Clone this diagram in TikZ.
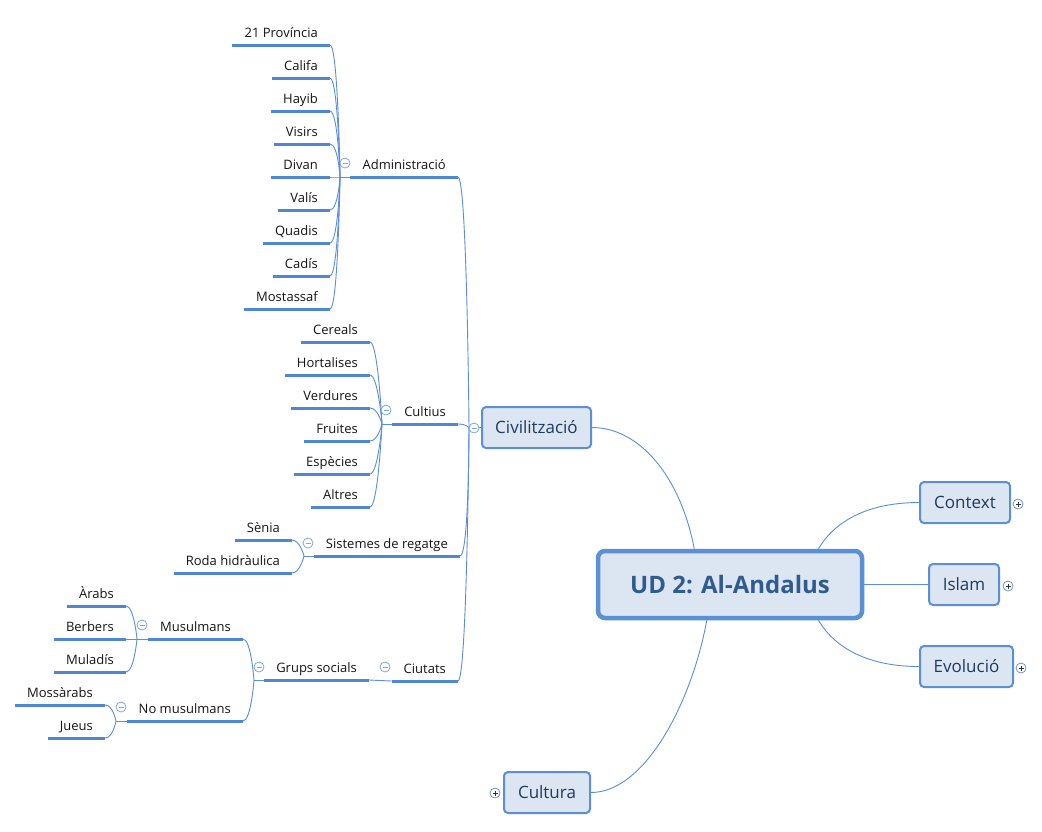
\documentclass[tikz,border=0pt]{standalone}
\usepackage{fontspec}
\setmainfont{Open Sans}
\definecolor{ulcol}{HTML}{4F86D6}
\definecolor{lncol}{HTML}{5A8FD8}
\definecolor{boxfill}{HTML}{DCE6F2}
\definecolor{boxcol}{HTML}{5B8FD6}
\definecolor{roottext}{HTML}{305B8F}
\definecolor{topictext}{HTML}{1E3A5F}
\definecolor{leaftext}{HTML}{151515}
\definecolor{mcol}{HTML}{7EA6DE}
\definecolor{pcol}{HTML}{6E95C8}
\tikzset{
 leaf/.style={anchor=south east, inner xsep=12pt, inner ysep=0pt, text height=11pt, text depth=7pt, font=\fontsize{13}{15}\selectfont, text=leaftext},
 ul/.style={draw=ulcol, line width=3pt},
 conn/.style={draw=lncol, line width=0.9pt},
 topic/.style={draw=boxcol, line width=2pt, fill=boxfill, rounded corners=4pt, font=\fontsize{17}{20}\selectfont, text=topictext, minimum height=41pt, inner sep=0pt},
 rootbox/.style={draw=boxcol, line width=4.5pt, fill=boxfill, rounded corners=7pt, font=\fontsize{24}{28}\selectfont\bfseries, text=roottext, minimum width=264pt, minimum height=67pt, inner sep=0pt},
 minusmark/.style={circle, draw=mcol, line width=0.8pt, fill=white, minimum size=10pt, inner sep=0pt,
   path picture={\draw[mcol, line width=0.8pt] ([xshift=-2.5pt]path picture bounding box.center) -- ([xshift=2.5pt]path picture bounding box.center);}},
 plusmark/.style={circle, draw=pcol, line width=0.8pt, fill=white, minimum size=10pt, inner sep=0pt,
   path picture={\draw[black!80, line width=0.8pt] ([xshift=-2.5pt]path picture bounding box.center) -- ([xshift=2.5pt]path picture bounding box.center) ([yshift=-2.5pt]path picture bounding box.center) -- ([yshift=2.5pt]path picture bounding box.center);}},
}
\begin{document}
\begin{tikzpicture}[x=1pt,y=-1pt]
\fill[white] (0,0) rectangle (1042,831);
\useasboundingbox (0,0) rectangle (1042,831);

% root and main topics
\node[rootbox] (root) at (730,584.5) {UD 2: Al-Andalus};
\node[topic, minimum width=109pt] (civ) at (536.5,427.5) {Civilització};
\node[topic, minimum width=90pt] (ctx) at (965,502.5) {Context};
\node[topic, minimum width=70pt] (isl) at (964,584.5) {Islam};
\node[topic, minimum width=93pt] (evo) at (966.5,666.5) {Evolució};
\node[topic, minimum width=86pt] (cult) at (547,792.5) {Cultura};

% Administracio
\node[leaf] (a1) at (330,45) {21 Província};
\node[leaf] (a2) at (330,78) {Califa};
\node[leaf] (a3) at (330,111) {Hayib};
\node[leaf] (a4) at (330,144) {Visirs};
\node[leaf] (a5) at (330,177) {Divan};
\node[leaf] (a6) at (330,210) {Valís};
\node[leaf] (a7) at (330,243) {Quadis};
\node[leaf] (a8) at (330,276) {Cadís};
\node[leaf] (a9) at (330,309) {Mostassaf};
\node[leaf] (adm) at (458,177) {Administració};
% Cultius
\node[leaf] (c1) at (370,342) {Cereals};
\node[leaf] (c2) at (370,375) {Hortalises};
\node[leaf] (c3) at (370,408) {Verdures};
\node[leaf] (c4) at (370,441) {Fruites};
\node[leaf] (c5) at (370,474) {Espècies};
\node[leaf] (c6) at (370,507) {Altres};
\node[leaf] (cts) at (458,424) {Cultius};
% Sistemes
\node[leaf] (s1) at (292,540) {Sènia};
\node[leaf] (s2) at (292,573) {Roda hidràulica};
\node[leaf] (sis) at (460,556) {Sistemes de regatge};
% Ciutats
\node[leaf] (ciu) at (458,681) {Ciutats};
\node[leaf] (gs) at (369,680) {Grups socials};
\node[leaf] (mus) at (243,639) {Musulmans};
\node[leaf] (nom) at (243,721) {No musulmans};
\node[leaf] (m1) at (126,606) {Àrabs};
\node[leaf] (m2) at (126,639) {Berbers};
\node[leaf] (m3) at (126,672) {Muladís};
\node[leaf] (n1) at (105,705) {Mossàrabs};
\node[leaf] (n2) at (105,738) {Jueus};

\foreach \n in {a1,a2,a3,a4,a5,a6,a7,a8,a9,adm,c1,c2,c3,c4,c5,c6,cts,s1,s2,sis,ciu,gs,mus,nom,m1,m2,m3,n1,n2}
  \draw[ul] (\n.south west) -- (\n.south east);

% hubs
\coordinate (civhub) at (469,428);
\coordinate (admhub) at (340,177);
\coordinate (ctshub) at (382,424);
\coordinate (sishub) at (304,556);
\coordinate (gshub) at (254,680);
\coordinate (mushub) at (137,639);
\coordinate (nomhub) at (116,721);

\draw[conn] (civhub) -- (civ.west);
\foreach \n in {adm,cts,sis,ciu}
  \draw[conn] (\n.south east) .. controls +(9,0) and +(0,0) .. (civhub);
\draw[conn] (admhub) -- (adm.south west);
\foreach \n in {a1,a2,a3,a4,a5,a6,a7,a8,a9}
  \draw[conn] (\n.south east) .. controls +(8,0) and +(0,0) .. (admhub);
\draw[conn] (ctshub) -- (cts.south west);
\foreach \n in {c1,c2,c3,c4,c5,c6}
  \draw[conn] (\n.south east) .. controls +(8,0) and +(0,0) .. (ctshub);
\draw[conn] (sishub) -- (sis.south west);
\foreach \n in {s1,s2}
  \draw[conn] (\n.south east) .. controls +(8,0) and +(0,0) .. (sishub);
\draw[conn] (gs.south east) -- (ciu.south west);
\draw[conn] (gshub) -- (gs.south west);
\foreach \n in {mus,nom}
  \draw[conn] (\n.south east) .. controls +(8,0) and +(0,0) .. (gshub);
\draw[conn] (mushub) -- (mus.south west);
\foreach \n in {m1,m2,m3}
  \draw[conn] (\n.south east) .. controls +(8,0) and +(0,0) .. (mushub);
\draw[conn] (nomhub) -- (nom.south west);
\foreach \n in {n1,n2}
  \draw[conn] (\n.south east) .. controls +(8,0) and +(0,0) .. (nomhub);

% root connectors
\draw[conn] (root.135) .. controls +(-14,-73) and +(47,0) .. (civ.east);
\draw[conn] (root.237) .. controls +(-15,82) and +(54,0) .. (cult.east);
\draw[conn] (root.22) .. controls +(17,-29) and +(-49,0) .. (ctx.west);
\draw[conn] (root.-22) .. controls +(17,29) and +(-49,0) .. (evo.west);
\draw[conn] (root.east) -- (isl.west);

% collapse / expand markers
\node[minusmark] (mk-civ) at (474,428) {};
\node[minusmark] (mk-adm) at (345,163) {};
\node[minusmark] (mk-cts) at (386,410) {};
\node[minusmark] (mk-sis) at (308,543) {};
\node[minusmark] (mk-ciu) at (385,667) {};
\node[minusmark] (mk-gs) at (259,667) {};
\node[minusmark] (mk-mus) at (142,625) {};
\node[minusmark] (mk-nom) at (121,707) {};
\node[plusmark] (mk-ctx) at (1018,504) {};
\node[plusmark] (mk-isl) at (1008,586) {};
\node[plusmark] (mk-evo) at (1021,668) {};
\node[plusmark] (mk-cult) at (495,793) {};
\end{tikzpicture}
\end{document}
